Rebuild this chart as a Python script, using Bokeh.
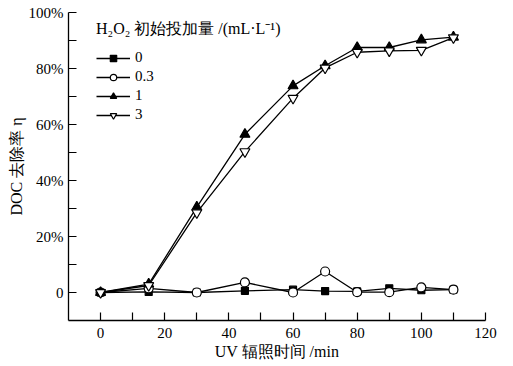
from bokeh.plotting import figure
from bokeh.models import FixedTicker, Legend, LegendItem
from bokeh.embed import file_html
from bokeh.resources import INLINE

time_min = [0, 15, 30, 45, 60, 70, 80, 90, 100, 110]
dose_0 = [0, 0.2, 0, 0.6, 1.0, 0.5, 0.4, 1.5, 0.8, 1.0]
dose_03 = [0, 1.5, 0, 3.6, 0, 7.5, 0.1, 0.1, 1.8, 1.0]
dose_1 = [0, 3.0, 30.5, 56.5, 73.8, 81.0, 87.5, 87.5, 90.2, 91.2]
dose_3 = [0, 2.5, 28.5, 50.3, 69.4, 80.2, 85.8, 86.3, 86.5, 91.0]

legend_labels = ["0", "0.3", "1", "3"]
y_ticks = [0, 20, 40, 60, 80, 100]
y_tick_labels = ["0", "20%", "40%", "60%", "80%", "100%"]
x_ticks = [0, 20, 40, 60, 80, 100, 120]

FONT = "Liberation Serif"

p = figure(width=513, height=366, output_backend="svg", toolbar_location=None,
           x_range=(-10, 120), y_range=(-10, 100),
           min_border_left=68, min_border_right=28, min_border_top=12, min_border_bottom=46)
p.outline_line_color = None
p.grid.grid_line_color = None
p.background_fill_color = "white"

for ax in [p.xaxis[0], p.yaxis[0]]:
    ax.major_tick_in = 8
    ax.major_tick_out = 0
    ax.minor_tick_in = 8
    ax.minor_tick_out = 0
    ax.axis_line_color = "black"
    ax.axis_line_width = 1.3
    ax.major_tick_line_width = 1.2
    ax.minor_tick_line_width = 1.2
    ax.major_label_text_font = FONT
    ax.major_label_text_font_size = "15px"
    ax.major_label_text_color = "black"
    ax.axis_label_text_font = FONT
    ax.axis_label_text_font_size = "16px"
    ax.axis_label_text_font_style = "normal"
    ax.axis_label_text_color = "black"

p.xaxis.ticker = FixedTicker(ticks=x_ticks, minor_ticks=[10, 30, 50, 70, 90, 110])
p.yaxis.ticker = FixedTicker(ticks=y_ticks, minor_ticks=[10, 30, 50, 70, 90])
p.yaxis.major_label_overrides = {t: l for t, l in zip(y_ticks, y_tick_labels)}
p.xaxis.major_label_standoff = 7
p.yaxis.major_label_standoff = 5
p.xaxis.axis_label = "UV 辐照时间 /min"
p.yaxis.axis_label = "DOC 去除率 η"
p.xaxis.axis_label_standoff = 2
p.yaxis.axis_label_standoff = 1

lw = 1.3
items = []
series = [
    (dose_0, "square", "black", 7),
    (dose_03, "circle", "white", 9),
    (dose_1, "triangle", "black", 10),
    (dose_3, "inverted_triangle", "white", 10),
]
for (vals, marker, fill, size), lab in zip(series, legend_labels):
    r1 = p.line(time_min, vals, line_color="black", line_width=lw)
    r2 = p.scatter(time_min, vals, marker=marker, size=size, fill_color=fill,
                   line_color="black", line_width=1.2)
    items.append(LegendItem(label=lab, renderers=[r1, r2]))

legend = Legend(items=items, location=(28, 197), title="H₂O₂ 初始投加量 /(mL·L⁻¹)")
legend.title_text_font = FONT
legend.title_text_font_size = "16px"
legend.title_text_font_style = "normal"
legend.title_text_color = "black"
legend.title_standoff = 9
legend.label_text_font = FONT
legend.label_text_font_size = "15px"
legend.label_text_color = "black"
legend.glyph_width = 34
legend.glyph_height = 16
legend.label_height = 16
legend.label_standoff = 5
legend.spacing = 2
legend.padding = 0
legend.margin = 0
legend.border_line_color = None
legend.background_fill_alpha = 0
p.add_layout(legend)

open("out.html", "w").write(file_html(p, INLINE))
